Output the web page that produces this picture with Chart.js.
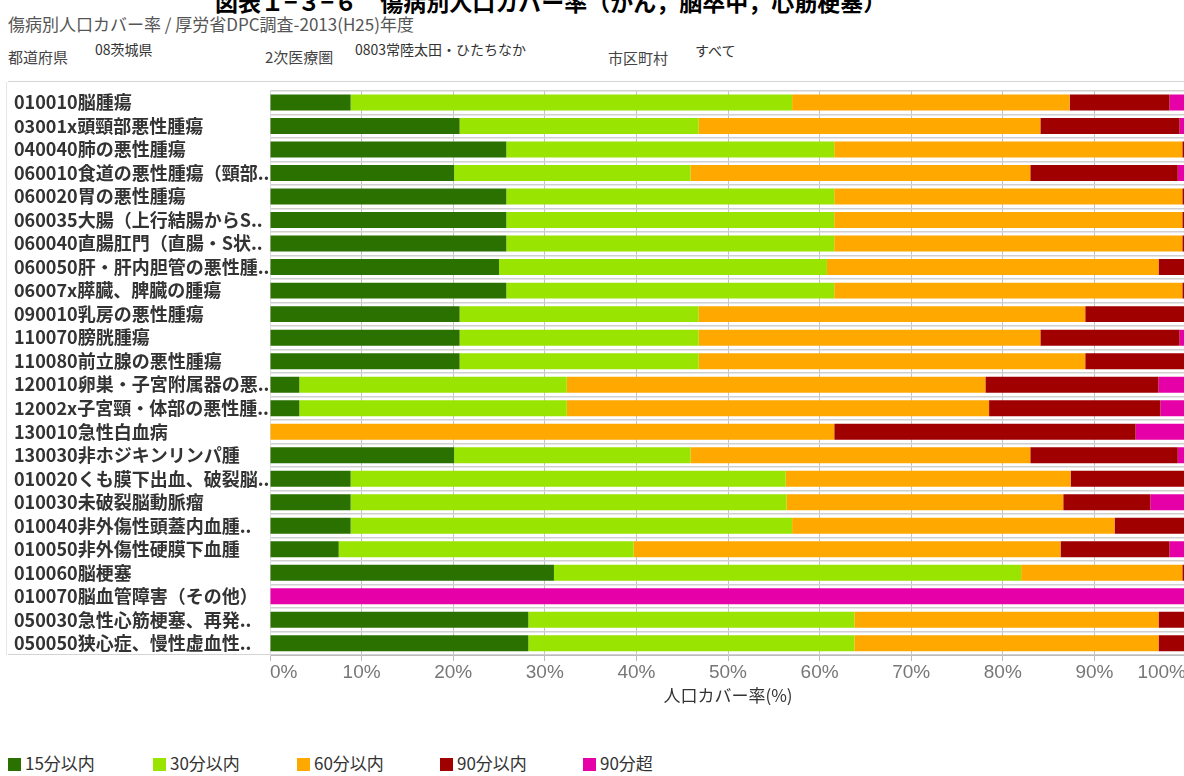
<!DOCTYPE html>
<html><head><meta charset="utf-8">
<script src="https://cdn.jsdelivr.net/npm/chart.js@4/dist/chart.umd.min.js"></script>
<style>
html,body{margin:0;padding:0;background:#fff;width:1184px;height:776px;overflow:hidden;position:relative;font-family:"Noto Sans CJK JP","Liberation Sans",sans-serif;}
.t{position:absolute;white-space:nowrap;line-height:1;}
#title{left:215px;top:-10px;font-size:23px;font-weight:bold;color:#000;}
#sub{left:8px;top:15px;font-size:17px;color:#555;}
.hl{font-size:15px;color:#444;}
.hv{font-size:14px;color:#333;}
.line{position:absolute;background:#d4d4d4;}
#wrap{position:absolute;left:0;top:80px;width:1190px;height:625px;}
#legend{position:absolute;left:0;top:754px;height:20px;width:1184px;}
.li{position:absolute;top:0;height:18px;font-size:17px;color:#333;white-space:nowrap;line-height:18px;}
.li span.sw{display:inline-block;width:13px;height:13px;vertical-align:-1px;margin-right:4px;}
</style>
</head><body>
<div class="t" id="title">図表１−３−６　傷病別人口カバー率（がん，脳卒中，心筋梗塞）</div>
<div class="t" id="sub">傷病別人口カバー率 / 厚労省DPC調査-2013(H25)年度</div>
<div class="t hl" style="left:8px;top:49px;">都道府県</div>
<div class="t hv" style="left:95px;top:42px;">08茨城県</div>
<div class="t hl" style="left:265px;top:49px;">2次医療圏</div>
<div class="t hv" style="left:355px;top:42px;">0803常陸太田・ひたちなか</div>
<div class="t hl" style="left:608px;top:50px;">市区町村</div>
<div class="t hv" style="left:695px;top:43px;">すべて</div>
<div class="line" style="left:8px;top:81px;width:1176px;height:1px;"></div>
<div class="line" style="left:6px;top:82px;width:1px;height:573px;background:#e6e6e6;"></div>
<div class="line" style="left:8px;top:654px;width:262px;height:1px;"></div>
<div id="wrap"><canvas id="c" width="1190" height="625"></canvas></div>
<div id="legend"></div>
<script>
const categories = [
  "010010脳腫瘍",
  "03001x頭頸部悪性腫瘍",
  "040040肺の悪性腫瘍",
  "060010食道の悪性腫瘍（頸部..",
  "060020胃の悪性腫瘍",
  "060035大腸（上行結腸からS..",
  "060040直腸肛門（直腸・S状..",
  "060050肝・肝内胆管の悪性腫..",
  "06007x膵臓、脾臓の腫瘍",
  "090010乳房の悪性腫瘍",
  "110070膀胱腫瘍",
  "110080前立腺の悪性腫瘍",
  "120010卵巣・子宮附属器の悪..",
  "12002x子宮頸・体部の悪性腫..",
  "130010急性白血病",
  "130030非ホジキンリンパ腫",
  "010020くも膜下出血、破裂脳..",
  "010030未破裂脳動脈瘤",
  "010040非外傷性頭蓋内血腫..",
  "010050非外傷性硬膜下血腫",
  "010060脳梗塞",
  "010070脳血管障害（その他）",
  "050030急性心筋梗塞、再発..",
  "050050狭心症、慢性虚血性.."
];
const within15 = [8.8,20.7,25.8,20.1,25.8,25.8,25.8,25.0,25.8,20.7,20.7,20.7,3.2,3.2,0,20.1,8.8,8.8,8.8,7.5,31.0,0,28.2,28.2];
const within30 = [48.2,26.1,35.8,25.8,35.8,35.8,35.8,35.8,35.8,26.1,26.1,26.1,29.2,29.2,0,25.8,47.5,47.6,48.2,32.2,51.0,0,35.6,35.6];
const within60 = [30.3,37.3,38.0,37.1,38.0,38.0,38.0,36.2,38.0,42.2,37.3,42.2,45.7,46.1,61.6,37.1,31.1,30.2,35.2,46.6,17.6,0,33.2,33.2];
const within90 = [10.9,15.2,0.4,16.1,0.4,0.4,0.4,3.0,0.4,11.0,15.2,11.0,18.9,18.7,32.9,16.1,12.6,9.5,7.8,11.9,0.4,0,3.0,3.0];
const over90 = [1.8,0.7,0,0.9,0,0,0,0,0,0,0.7,0,3.0,2.8,5.5,0.9,0,3.9,0,1.8,0,100,0,0];
const seriesNames = ["15分以内","30分以内","60分以内","90分以内","90分超"];
const seriesColors = ["#2b7100","#99e400","#ffa800","#a00000","#e600a8"];
const xTickValues = [0,10,20,30,40,50,60,70,80,90,100];
const xAxisTitle = "人口カバー率(%)";
const legendX = [8,153,297,440,583];

Chart.defaults.font.family = '"Noto Sans CJK JP","Liberation Sans",sans-serif';
const seriesData = [within15, within30, within60, within90, over90];
const datasets = seriesNames.map((n,i)=>({
  label:n, data:seriesData[i], backgroundColor:seriesColors[i],
  borderWidth:0, barPercentage:0.68, categoryPercentage:1.0
}));

new Chart(document.getElementById('c'), {
  type:'bar',
  data:{labels:categories, datasets},
  options:{
    indexAxis:'y', responsive:false, animation:false,
    layout:{padding:{left:14, top:3, right:4, bottom:0}},
    plugins:{legend:{display:false}, tooltip:{enabled:false}},
    scales:{
      x:{
        stacked:true, min:0, max:100,
        afterBuildTicks:s=>{ s.ticks = xTickValues.map(v=>({value:v})); },
        afterFit:s=>{ s.height = 50; },
        ticks:{callback:v=>v+'%', align:'inner', color:'#777', padding:2,
          font:{family:'"Liberation Sans Narrow","Liberation Sans",sans-serif', size:19, lineHeight:1.0}},
        grid:{color:'#c4c4c4', lineWidth:1, drawTicks:true, tickLength:6, tickColor:'#bbb'},
        border:{display:true, color:'#bbb'},
        title:{display:true, text:xAxisTitle, color:'#333', padding:{top:0,bottom:0},
          font:{size:17, lineHeight:1.1}}
      },
      y:{
        stacked:true,
        afterFit:s=>{ s.width = 256; },
        ticks:{crossAlign:'far', color:'#333', padding:0, autoSkip:false,
          font:{size:18, weight:'bold'}},
        grid:{offset:true, color:'#d0d0d0', lineWidth:1.5, drawTicks:false},
        border:{display:true, color:'#ddd'}
      }
    }
  }
});

const lg = document.getElementById('legend');
seriesNames.forEach((n,i)=>{
  const d = document.createElement('div');
  d.className='li'; d.style.left = legendX[i]+'px';
  const sw = document.createElement('span'); sw.className='sw'; sw.style.background=seriesColors[i];
  d.appendChild(sw); d.appendChild(document.createTextNode(n));
  lg.appendChild(d);
});
</script>
</body></html>
